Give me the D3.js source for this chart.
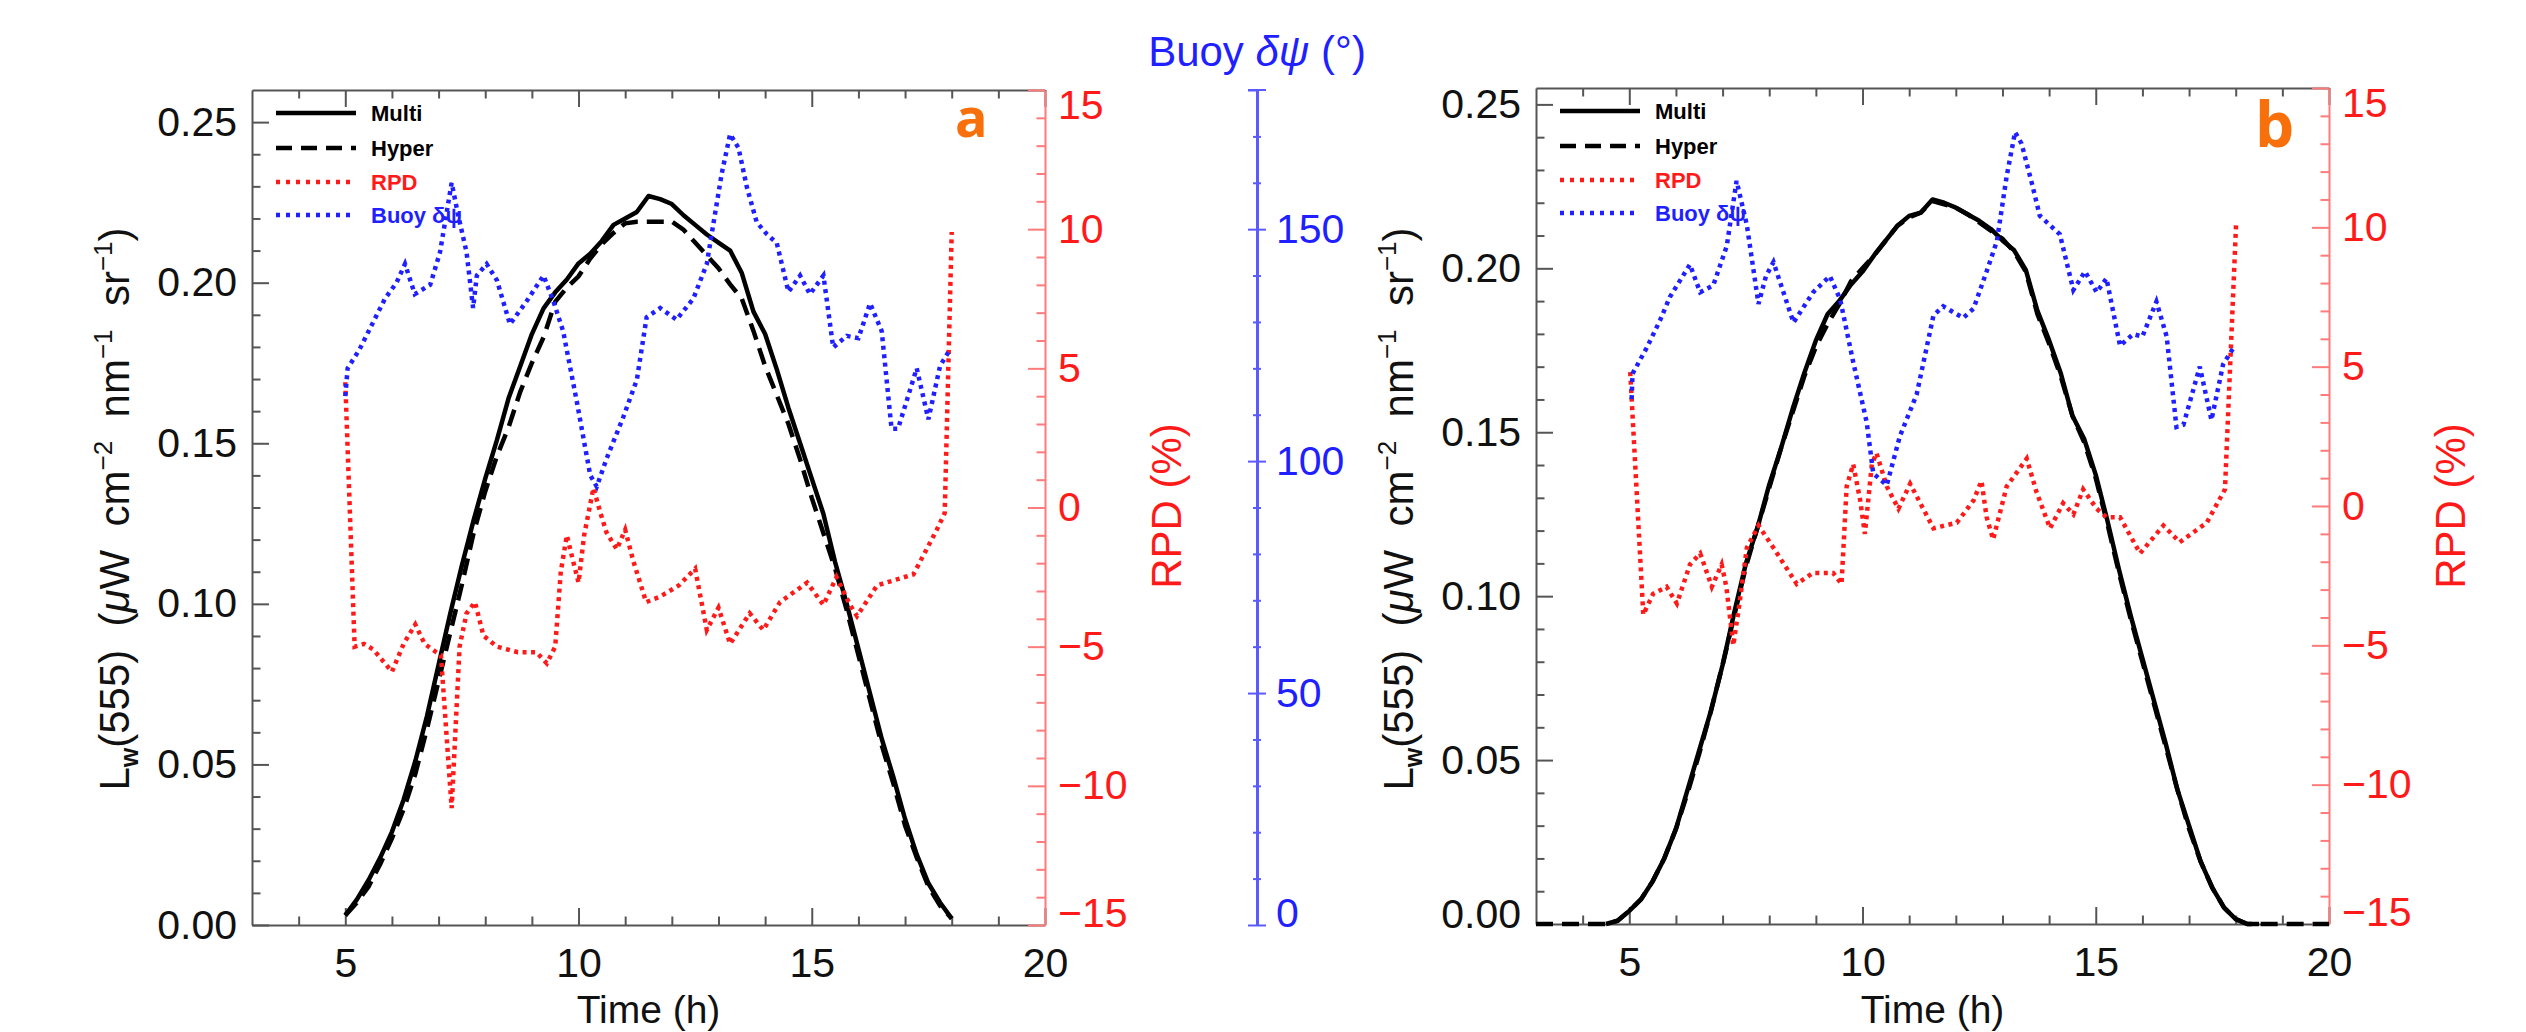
<!DOCTYPE html>
<html>
<head>
<meta charset="utf-8">
<script src="https://cdn.jsdelivr.net/npm/d3@7"></script>
<style>
  body { margin: 0; background: #fff; }
  svg { display: block; }
</style>
</head>
<body>
<script>
// ---- data ----
let timeA = [5, 5.25, 5.5, 5.75, 6, 6.25, 6.5, 6.75, 7, 7.25, 7.5, 7.75, 8, 8.25, 8.5, 8.75, 9, 9.25, 9.5, 9.75,
  10, 10.25, 10.5, 10.75, 11, 11.25, 11.5, 11.75, 12, 12.25, 12.5, 12.75, 13, 13.25, 13.5, 13.75, 14, 14.25, 14.5, 14.75,
  15, 15.25, 15.5, 15.75, 16, 16.25, 16.5, 16.75, 17, 17.25, 17.5, 17.75, 18];
let multiA = [0.003, 0.008, 0.014, 0.021, 0.029, 0.039, 0.051, 0.065, 0.081, 0.097, 0.112, 0.126, 0.139, 0.151, 0.164, 0.174, 0.184, 0.192, 0.197, 0.201,
  0.206, 0.209, 0.213, 0.218, 0.220, 0.222, 0.227, 0.226, 0.2245, 0.221, 0.218, 0.215, 0.2125, 0.210, 0.203, 0.191, 0.184, 0.173, 0.161, 0.150,
  0.139, 0.128, 0.113, 0.100, 0.086, 0.072, 0.058, 0.046, 0.033, 0.022, 0.013, 0.007, 0.002];
let hyperA = [0.003, 0.007, 0.012, 0.019, 0.027, 0.036, 0.047, 0.061, 0.076, 0.091, 0.106, 0.122, 0.135, 0.146, 0.155, 0.166, 0.175, 0.183, 0.194, 0.1985,
  0.202, 0.2075, 0.212, 0.2155, 0.2185, 0.219, 0.219, 0.219, 0.219, 0.2165, 0.2125, 0.2085, 0.2045, 0.1995, 0.195, 0.185, 0.174, 0.165, 0.156, 0.145,
  0.133, 0.122, 0.111, 0.098, 0.084, 0.070, 0.056, 0.044, 0.031, 0.021, 0.012, 0.006, 0.002];

let rpdTimeA = [5.0, 5.2, 5.4, 5.6, 6.0, 6.25, 6.5, 6.7, 6.95, 7.05, 7.28, 7.45, 7.6, 7.78, 7.96, 8.25, 8.7, 9.1, 9.32, 9.5,
  9.62, 9.75, 9.88, 10.0, 10.12, 10.32, 10.47, 10.6, 10.82, 11.0, 11.17, 11.45, 11.75, 12.15, 12.5, 12.75, 13.0, 13.25, 13.67, 13.96,
  14.32, 14.9, 15.25, 15.53, 15.82, 15.97, 16.4, 17.18, 17.68, 17.85, 18.0];
let rpdA = [4.5, -5.0, -4.9, -5.1, -5.9, -4.9, -4.2, -4.9, -5.2, -5.3, -10.8, -5.0, -3.8, -3.4, -4.6, -5.0, -5.2, -5.2, -5.6, -5.0,
  -2.3, -1.0, -1.9, -2.7, -1.0, 0.7, -0.2, -0.9, -1.5, -0.8, -1.9, -3.4, -3.2, -2.8, -2.2, -4.4, -3.6, -4.9, -3.8, -4.4,
  -3.4, -2.7, -3.5, -2.5, -3.5, -3.9, -2.8, -2.4, -0.8, -0.2, 9.9];

let buoyTimeA = [5.0, 5.05, 5.3, 5.6, 5.85, 6.1, 6.28, 6.49, 6.82, 7.03, 7.28, 7.42, 7.6, 7.74, 7.82, 8.03, 8.25, 8.53, 8.89, 9.25,
  9.46, 9.67, 9.96, 10.25, 10.39, 10.6, 10.96, 11.25, 11.46, 11.75, 12.1, 12.46, 12.75, 12.88, 13.07, 13.25, 13.43, 13.61, 13.82, 14.03,
  14.25, 14.5, 14.75, 14.96, 15.25, 15.46, 15.75, 16.0, 16.25, 16.5, 16.71, 16.85, 17.25, 17.5, 17.75, 17.93];
let buoyA = [114, 120, 124, 130, 135, 138.5, 142.5, 136, 138, 145, 160, 153, 145, 133, 140, 142.5, 139, 129.5, 134.5, 140,
  134.5, 128, 113, 97, 94.5, 100.5, 109.5, 117.5, 131, 133, 130.5, 135, 142.5, 150.5, 162, 170.5, 167.5, 159, 151.5, 149,
  147, 136.5, 140, 136, 140, 124.5, 127, 126.5, 134, 128, 107, 107, 120, 109, 120.5, 123.5];

let timeB = [3, 3.5, 4, 4.5, 4.75, 5, 5.25, 5.5, 5.75, 6, 6.25, 6.5, 6.75, 7, 7.25, 7.5, 7.75, 8, 8.25, 8.5,
  8.75, 9, 9.25, 9.5, 9.75, 10, 10.25, 10.5, 10.75, 11, 11.25, 11.5, 11.75, 12, 12.25, 12.5, 12.75, 13, 13.25, 13.5,
  13.75, 14, 14.25, 14.5, 14.75, 15, 15.25, 15.5, 15.75, 16, 16.25, 16.5, 16.75, 17, 17.25, 17.5, 17.75, 18, 18.25, 18.5,
  19, 19.5, 20];
let multiB = [null, null, null, 0.0, 0.001, 0.004, 0.0075, 0.013, 0.020, 0.029, 0.041, 0.053, 0.065, 0.079, 0.095, 0.110, 0.121, 0.134, 0.145, 0.157,
  0.168, 0.178, 0.186, 0.190, 0.195, 0.199, 0.204, 0.2085, 0.213, 0.216, 0.217, 0.221, 0.220, 0.2185, 0.2165, 0.2145, 0.212, 0.2085, 0.2055, 0.1995,
  0.187, 0.178, 0.168, 0.155, 0.148, 0.137, 0.123, 0.108, 0.094, 0.081, 0.068, 0.055, 0.041, 0.030, 0.019, 0.011, 0.005, 0.0015, 0.0, 0.0,
  null, null, null];
let hyperB = [0.0, 0.0, 0.0, 0.0, 0.001, 0.004, 0.0075, 0.013, 0.020, 0.029, 0.040, 0.052, 0.065, 0.079, 0.094, 0.109, 0.121, 0.133, 0.145, 0.156,
  0.167, 0.176, 0.183, 0.189, 0.196, 0.200, 0.204, 0.2085, 0.213, 0.2155, 0.217, 0.2205, 0.2195, 0.2185, 0.2165, 0.214, 0.2115, 0.209, 0.205, 0.199,
  0.186, 0.177, 0.167, 0.155, 0.147, 0.136, 0.122, 0.107, 0.093, 0.080, 0.067, 0.054, 0.041, 0.029, 0.019, 0.011, 0.005, 0.0015, 0.0, 0.0,
  0.0, 0.0, 0.0];

let rpdTimeB = [5.02, 5.3, 5.51, 5.8, 6.02, 6.3, 6.52, 6.77, 6.98, 7.08, 7.23, 7.37, 7.52, 7.77, 8.09, 8.59, 8.94, 9.37, 9.55, 9.66,
  9.8, 9.95, 10.05, 10.2, 10.3, 10.52, 10.77, 11.02, 11.52, 12.02, 12.38, 12.55, 12.66, 12.8, 13.09, 13.52, 13.73, 14.02, 14.3, 14.52,
  14.73, 15.02, 15.23, 15.52, 15.95, 16.45, 16.8, 17.38, 17.77, 18.01];
let rpdB = [4.8, -3.9, -3.15, -2.9, -3.5, -2.1, -1.7, -2.9, -2.1, -2.9, -5.0, -3.4, -1.5, -0.7, -1.5, -2.8, -2.4, -2.4, -2.8, 0.7,
  1.5, 0.2, -1.0, 1.5, 1.9, 0.7, -0.1, 0.8, -0.8, -0.6, 0.2, 0.9, -0.4, -1.2, 0.7, 1.7, 0.5, -0.8, 0.1, -0.3,
  0.6, -0.1, -0.4, -0.4, -1.7, -0.7, -1.3, -0.6, 0.6, 10.2];

let buoyTimeB = [5.05, 5.07, 5.37, 5.66, 5.87, 6.3, 6.52, 6.8, 7.09, 7.3, 7.52, 7.77, 7.93, 8.09, 8.52, 8.94, 9.3, 9.52, 9.8, 10.09,
  10.23, 10.52, 10.8, 11.16, 11.52, 11.73, 12.16, 12.38, 12.66, 12.88, 13.09, 13.27, 13.41, 13.63, 13.8, 14.23, 14.52, 14.77, 15.02, 15.23,
  15.52, 15.8, 16.0, 16.3, 16.52, 16.73, 16.88, 17.23, 17.48, 17.73, 17.98];
let buoyB = [113, 118.5, 124, 130, 135, 142, 136, 137.5, 146, 160, 150.5, 133.5, 139.5, 142.5, 129.5, 136, 139.5, 134.5, 121, 108,
  97, 94.5, 105, 114, 131, 133, 130.5, 132.5, 140.5, 147, 161, 170.5, 168, 159.5, 152.5, 148.5, 136.5, 140.5, 136, 139,
  124.5, 127, 126.5, 134, 126.5, 107, 107.5, 120, 108.5, 120.5, 124.5];

let timeTicks = [5, 10, 15, 20];
let lwTicks = [0, 0.05, 0.10, 0.15, 0.20, 0.25];
let rpdTicks = [-15, -10, -5, 0, 5, 10, 15];
let buoyTicks = [0, 50, 100, 150];
let legendLabels = ["Multi", "Hyper", "RPD", "Buoy δψ"];

// ---- drawing ----
const FONT = "'Liberation Sans', Arial, Helvetica, sans-serif";
const RED = "#ff1a1a", RED_AX = "#ff7b7b";
const BLUE = "#1f1fff", BLUE_AX = "#5a5aff";
const GREY = "#555";
const ORANGE = "#f7700c";

let svg = d3.select("body").append("svg")
  .attr("width", 2526)
  .attr("height", 1032)
  .style("font-family", FONT);

function styleAxis(g, lineColor, textColor) {
  g.attr("font-family", FONT).attr("font-size", 41);
  g.select(".domain").attr("stroke", lineColor).attr("stroke-width", 2);
  g.selectAll(".tick line").attr("stroke", lineColor).attr("stroke-width", 2);
  g.selectAll(".tick text").attr("fill", textColor);
  return g;
}

function minorAxis(g, axis, color) {
  g.call(axis.tickFormat(""));
  g.select(".domain").remove();
  g.selectAll(".tick line").attr("stroke", color).attr("stroke-width", 2);
}

function drawPanel(p) {
  let x = d3.scaleLinear().domain([3, 20]).range([p.left, p.right]);
  let y = d3.scaleLinear().domain([0, p.yMax]).range([p.bottom, p.top]);
  let yRpd = d3.scaleLinear().domain([-15, 15]).range([p.bottom, p.top]);
  let yBuoy = d3.scaleLinear().domain([0, 180]).range([p.bottom, p.top]);
  let g = svg.append("g");

  let xMinor = d3.range(4, 20).filter(v => v % 5 != 0);
  let yMinor = d3.range(1, 30).map(i => i / 100).filter(v => v < p.yMax - 0.001 && Math.round(v * 100) % 5 != 0);
  let rMinor = d3.range(-14, 15).filter(v => v % 5 != 0);

  // bottom / top
  minorAxis(g.append("g").attr("transform", `translate(0,${p.bottom})`),
    d3.axisBottom(x).tickValues(xMinor).tickSizeInner(-8.5).tickSizeOuter(0), GREY);
  minorAxis(g.append("g").attr("transform", `translate(0,${p.top})`),
    d3.axisTop(x).tickValues(xMinor).tickSizeInner(-8.5).tickSizeOuter(0), GREY);
  styleAxis(g.append("g").attr("transform", `translate(0,${p.top})`)
    .call(d3.axisTop(x).tickValues(timeTicks).tickSizeInner(-17).tickSizeOuter(0).tickFormat("")), GREY, "#000");
  styleAxis(g.append("g").attr("transform", `translate(0,${p.bottom})`)
    .call(d3.axisBottom(x).tickValues(timeTicks).tickSizeInner(-17).tickSizeOuter(0).tickPadding(23).tickFormat(d3.format("d"))), GREY, "#111");

  // left Lw axis
  minorAxis(g.append("g").attr("transform", `translate(${p.left},0)`),
    d3.axisLeft(y).tickValues(yMinor).tickSizeInner(-8.5).tickSizeOuter(0), GREY);
  let gl = styleAxis(g.append("g").attr("transform", `translate(${p.left},0)`)
    .call(d3.axisLeft(y).tickValues(lwTicks).tickSizeInner(-17).tickSizeOuter(0).tickPadding(15).tickFormat(d3.format(".2f"))), GREY, "#111");
  gl.selectAll(".tick text").attr("y", d => (d === 0 ? p.zeroNudge : 0));

  // right RPD axis
  minorAxis(g.append("g").attr("transform", `translate(${p.right},0)`),
    d3.axisRight(yRpd).tickValues(rMinor).tickSizeInner(-8.5).tickSizeOuter(0), RED_AX);
  let gr = styleAxis(g.append("g").attr("transform", `translate(${p.right},0)`)
    .call(d3.axisRight(yRpd).tickValues(rpdTicks).tickSizeInner(-17).tickSizeOuter(0).tickPadding(13)), RED_AX, RED);
  gr.selectAll(".tick text").attr("y", d => (d === 15 ? 15 : d === -15 ? -12 : 0));

  // separate Buoy axis
  if (p.buoyAxis) {
    let bx = p.buoyAxis;
    let bMinor = d3.range(10, 180, 10).filter(v => v % 50 != 0);
    let bCaps = [0, 50, 100, 150, 180];
    minorAxis(g.append("g").attr("transform", `translate(${bx},0)`),
      d3.axisLeft(yBuoy).tickValues(bMinor).tickSizeInner(4).tickSizeOuter(0), BLUE_AX);
    minorAxis(g.append("g").attr("transform", `translate(${bx},0)`),
      d3.axisRight(yBuoy).tickValues(bMinor).tickSizeInner(4).tickSizeOuter(0), BLUE_AX);
    minorAxis(g.append("g").attr("transform", `translate(${bx},0)`),
      d3.axisLeft(yBuoy).tickValues(bCaps).tickSizeInner(9).tickSizeOuter(0), BLUE_AX);
    let gb = styleAxis(g.append("g").attr("transform", `translate(${bx},0)`)
      .call(d3.axisRight(yBuoy).tickValues(buoyTicks).tickSizeInner(9).tickSizeOuter(0).tickPadding(10)), BLUE_AX, BLUE);
    gb.select(".domain").attr("stroke-width", 3);
    gb.selectAll(".tick text").attr("y", d => (d === 0 ? -12 : 0));
    g.append("line")
      .attr("x1", bx - 9).attr("x2", bx + 9)
      .attr("y1", yBuoy(180)).attr("y2", yBuoy(180))
      .attr("stroke", BLUE_AX).attr("stroke-width", 2);

    g.append("text")
      .attr("x", bx).attr("y", 66)
      .attr("text-anchor", "middle")
      .attr("font-size", 42)
      .attr("fill", BLUE)
      .style("white-space", "pre")
      .call(t => {
        t.append("tspan").text("Buoy ");
        t.append("tspan").attr("font-style", "italic").text("δψ");
        t.append("tspan").text(" (°)");
      });
  }

  // data lines
  let lineLw = d3.line().defined(d => d[1] != null).x(d => x(d[0])).y(d => y(d[1]));
  let lineRpd = d3.line().x(d => x(d[0])).y(d => yRpd(d[1]));
  let lineBuoy = d3.line().x(d => x(d[0])).y(d => yBuoy(d[1]));

  g.append("path").datum(d3.zip(p.time, p.multi))
    .attr("d", lineLw).attr("fill", "none").attr("stroke", "#000").attr("stroke-width", 4.5)
    .attr("stroke-linejoin", "round");
  g.append("path").datum(d3.zip(p.time, p.hyper))
    .attr("d", lineLw).attr("fill", "none").attr("stroke", "#000").attr("stroke-width", 4.5)
    .attr("stroke-dasharray", "17,9");
  g.append("path").datum(d3.zip(p.rpdTime, p.rpd))
    .attr("d", lineRpd).attr("fill", "none").attr("stroke", RED).attr("stroke-width", 4.5)
    .attr("stroke-dasharray", "4,4.5");
  g.append("path").datum(d3.zip(p.buoyTime, p.buoy))
    .attr("d", lineBuoy).attr("fill", "none").attr("stroke", BLUE).attr("stroke-width", 4.5)
    .attr("stroke-dasharray", "4,4.5");

  // legend
  let styles = [
    { stroke: "#000", dash: null, width: 4.5, color: "#000" },
    { stroke: "#000", dash: "16,9", width: 4.5, color: "#000" },
    { stroke: RED, dash: "4,6", width: 4.5, color: RED },
    { stroke: BLUE, dash: "4,6", width: 4.5, color: BLUE }
  ];
  let rowY = [23, 58, 92, 125];
  legendLabels.forEach((label, i) => {
    let yy = p.top + rowY[i];
    g.append("line")
      .attr("x1", p.left + 24).attr("x2", p.left + 104)
      .attr("y1", yy).attr("y2", yy)
      .attr("stroke", styles[i].stroke)
      .attr("stroke-width", styles[i].width)
      .attr("stroke-dasharray", styles[i].dash);
    g.append("text")
      .attr("x", p.left + 119).attr("y", yy)
      .attr("dy", "0.36em")
      .attr("font-size", 22)
      .attr("font-weight", "bold")
      .attr("fill", styles[i].color)
      .text(label);
  });

  // panel letter
  g.append("text")
    .attr("x", p.letterX).attr("y", p.letterY)
    .attr("font-family", "'Open Sans', 'Noto Sans', sans-serif")
    .attr("font-weight", 700)
    .attr("font-size", p.letterSize)
    .attr("fill", ORANGE)
    .text(p.letter);

  // axis titles
  g.append("text")
    .attr("x", (p.left + p.right) / 2).attr("y", 1023)
    .attr("text-anchor", "middle")
    .attr("font-size", 39)
    .attr("fill", "#111")
    .text("Time (h)");

  g.append("text")
    .attr("transform", `translate(${p.right + 136},506) rotate(-90)`)
    .attr("text-anchor", "middle")
    .attr("font-size", 42)
    .attr("fill", RED)
    .text("RPD (%)");

  let yt = g.append("text")
    .attr("transform", `translate(${p.left - 123},509) rotate(-90)`)
    .attr("text-anchor", "middle")
    .attr("font-size", 42)
    .attr("fill", "#111")
    .style("white-space", "pre");
  let parts = [
    ["L", 0, 42, null], ["w", 9, 25, "bold"], ["(555)  (", -9, 42, null], ["μ", 0, 42, "italic"],
    ["W  cm", 0, 42, null], ["−2", -17, 26, null], ["  nm", 17, 42, null], ["−1", -17, 26, null],
    ["  sr", 17, 42, null], ["−1", -17, 26, null], [")", 17, 42, null]
  ];
  parts.forEach(pt => {
    let ts = yt.append("tspan").attr("dy", pt[1]).attr("font-size", pt[2]).text(pt[0]);
    if (pt[3] == "italic") ts.attr("font-style", "italic");
    if (pt[3] == "bold") ts.attr("font-weight", "bold");
  });
}

drawPanel({
  left: 252, right: 1045, top: 90, bottom: 925, yMax: 0.26, zeroNudge: 0,
  time: timeA, multi: multiA, hyper: hyperA,
  rpdTime: rpdTimeA, rpd: rpdA, buoyTime: buoyTimeA, buoy: buoyA,
  buoyAxis: 1257, letter: "a", letterX: 955, letterY: 137, letterSize: 54
});

drawPanel({
  left: 1536, right: 2329, top: 88, bottom: 924, yMax: 0.255, zeroNudge: -10,
  time: timeB, multi: multiB, hyper: hyperB,
  rpdTime: rpdTimeB, rpd: rpdB, buoyTime: buoyTimeB, buoy: buoyB,
  buoyAxis: null, letter: "b", letterX: 2255, letterY: 147, letterSize: 62
});
</script>
</body>
</html>
